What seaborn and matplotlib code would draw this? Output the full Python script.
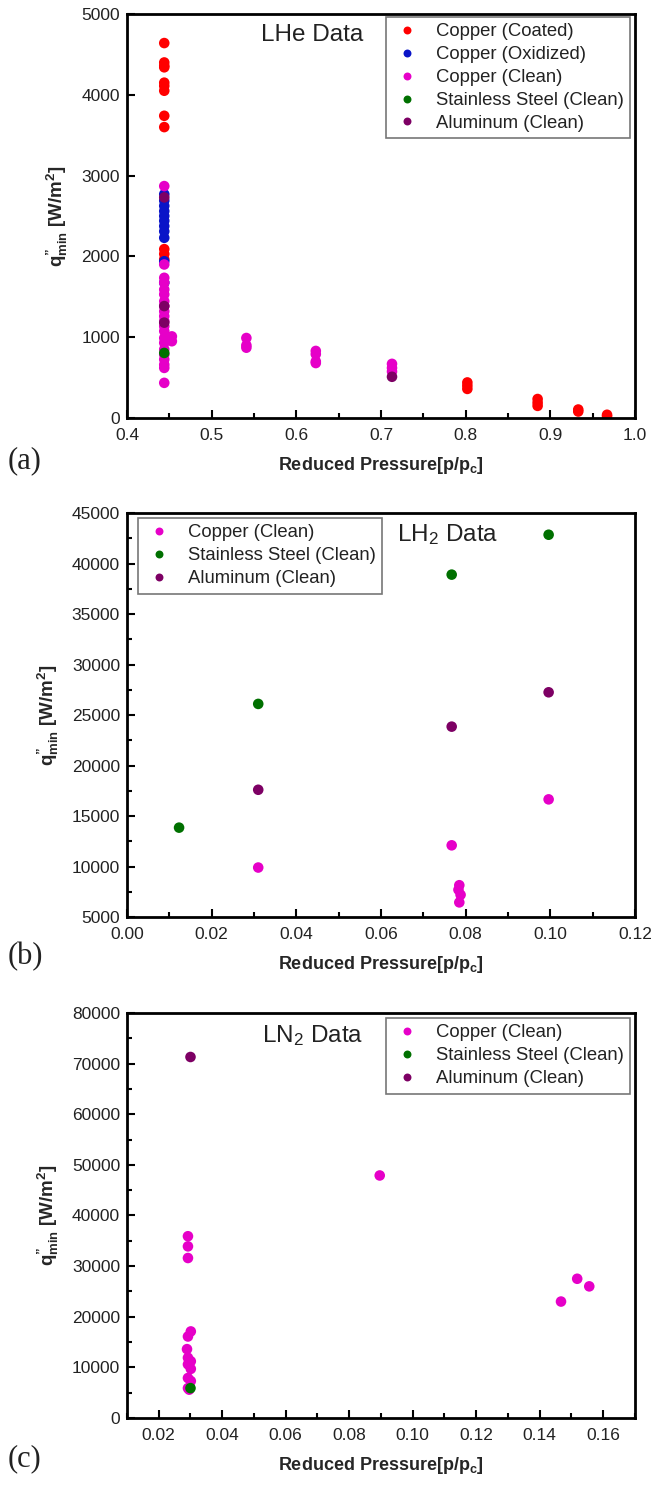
import matplotlib
matplotlib.use("Agg")
import matplotlib.pyplot as plt
from matplotlib.ticker import MultipleLocator, FormatStrFormatter
import pandas as pd
import seaborn as sns

# ---------------- data ----------------
LABELS = ["Copper (Coated)", "Copper (Oxidized)", "Copper (Clean)",
          "Stainless Steel (Clean)", "Aluminum (Clean)"]
COLORS = ["#FF0000", "#0A14C8", "#E600C8", "#007000", "#7D0064"]

# (a) liquid helium
he_coated_x = [0.444, 0.444, 0.444, 0.444, 0.444, 0.444, 0.444, 0.444, 0.444,
               0.444, 0.444, 0.444, 0.802, 0.802, 0.802, 0.885, 0.885, 0.885,
               0.933, 0.933, 0.967, 0.967]
he_coated_y = [4640, 4400, 4360, 4340, 4150, 4110, 4050, 3740, 3600,
               2090, 2030, 1965, 440, 400, 360, 235, 190, 150,
               105, 80, 40, 20]
he_oxid_x = [0.444, 0.444, 0.444, 0.444, 0.444, 0.444, 0.444, 0.444, 0.444,
             0.444, 0.444]
he_oxid_y = [2770, 2690, 2625, 2560, 2500, 2440, 2375, 2310, 2230, 1940, 1675]
he_clean_x = [0.444, 0.444, 0.444, 0.444, 0.444, 0.444, 0.444, 0.444, 0.444,
              0.444, 0.444, 0.444, 0.444, 0.444, 0.444, 0.444, 0.444, 0.444,
              0.444, 0.444, 0.444, 0.453, 0.453, 0.541, 0.541, 0.541,
              0.623, 0.623, 0.623, 0.623, 0.713, 0.713, 0.713]
he_clean_y = [2870, 1900, 1735, 1675, 1590, 1530, 1445, 1385, 1320, 1260,
              1200, 1135, 1075, 990, 930, 850, 785, 725, 660, 620, 435,
              1010, 950, 990, 900, 870, 830, 790, 700, 680, 670, 620, 575]
he_ss_x = [0.444]
he_ss_y = [805]
he_al_x = [0.444, 0.444, 0.444, 0.713]
he_al_y = [2730, 1385, 1180, 510]

# (b) liquid hydrogen
h2_clean_x = [0.031, 0.0767, 0.0785, 0.0783, 0.0788, 0.0785, 0.0996]
h2_clean_y = [9900, 12100, 8150, 7700, 7200, 6450, 16650]
h2_ss_x = [0.0123, 0.031, 0.0767, 0.0996]
h2_ss_y = [13850, 26100, 38900, 42850]
h2_al_x = [0.031, 0.0767, 0.0996]
h2_al_y = [17600, 23850, 27250]

# (c) liquid nitrogen
n2_clean_x = [0.0292, 0.0292, 0.0292, 0.0301, 0.0292, 0.0289, 0.0292, 0.0301,
              0.0292, 0.0301, 0.0292, 0.0301, 0.0292, 0.0296,
              0.0896, 0.1467, 0.1518, 0.1556]
n2_clean_y = [35900, 33900, 31600, 17100, 16100, 13600, 11900, 11200,
              10600, 9700, 7900, 7300, 5900, 5600,
              47900, 23000, 27500, 26000]
n2_ss_x = [0.030]
n2_ss_y = [5900]
n2_al_x = [0.030]
n2_al_y = [71300]

# ---------------- style ----------------
sns.set_style("white")
plt.rcParams["font.family"] = ["Liberation Sans", "DejaVu Sans"]
plt.rcParams["mathtext.fontset"] = "custom"
plt.rcParams["mathtext.rm"] = "Liberation Sans"
plt.rcParams["mathtext.it"] = "Liberation Sans:italic"
plt.rcParams["mathtext.bf"] = "Liberation Sans:bold"

palette = dict(zip(LABELS, COLORS))


def make_frame(groups):
    rows = []
    for label, xs, ys in groups:
        for x, y in zip(xs, ys):
            rows.append({"p": x, "q": y, "surface": label})
    return pd.DataFrame(rows)


def style_axes(ax, xlim, ylim, xmaj, xmin, ymaj, ymin, xfmt):
    ax.set_xlim(*xlim)
    ax.set_ylim(*ylim)
    ax.xaxis.set_major_locator(MultipleLocator(xmaj))
    ax.xaxis.set_minor_locator(MultipleLocator(xmin))
    ax.yaxis.set_major_locator(MultipleLocator(ymaj))
    if ymin:
        ax.yaxis.set_minor_locator(MultipleLocator(ymin))
    ax.xaxis.set_major_formatter(FormatStrFormatter(xfmt))
    ax.tick_params(which="both", direction="in", top=False, right=False,
                   bottom=True, left=True, width=1.5, colors="black",
                   labelcolor="#222222")
    ax.tick_params(which="major", length=6, labelsize=12.5)
    ax.tick_params(axis="x", which="major", pad=7)
    ax.tick_params(axis="y", which="major", pad=5)
    ax.tick_params(which="minor", length=3.5)
    for sp in ax.spines.values():
        sp.set_linewidth(2.0)
        sp.set_color("black")
        sp.set_visible(True)
    ax.set_xlabel(r"Reduced Pressure[p/p$_{\mathbf{c}}$]", fontsize=13,
                  fontweight="bold", labelpad=9)
    ax.set_ylabel(r"$\mathbf{q^{”}_{min}}$ [W/m$^{\mathbf{2}}$]", fontsize=13.5,
                  fontweight="bold", labelpad=8)


def add_legend(ax, anchor, loc):
    handles, labels = ax.get_legend_handles_labels()
    leg = ax.legend(handles, labels, loc=loc, bbox_to_anchor=anchor,
                    frameon=True, fancybox=False, fontsize=13.3,
                    markerscale=0.75, handlelength=1.6, handletextpad=0.75,
                    borderpad=0.35, labelspacing=0.32, borderaxespad=0.0)
    leg.get_frame().set_edgecolor("#555555")
    leg.get_frame().set_linewidth(1.2)
    for t in leg.get_texts():
        t.set_color("#222222")


fig = plt.figure(figsize=(6.67, 14.87), dpi=100)
L, W = 0.1904, 0.7616
ax_a = fig.add_axes([L, 0.7189, W, 0.2717])
ax_b = fig.add_axes([L, 0.3833, W, 0.2717])
ax_c = fig.add_axes([L, 0.0464, W, 0.2724])

dot = dict(x="p", y="q", hue="surface", palette=palette, s=58,
           linewidth=0, alpha=1.0, legend=True)

# (a) LHe
df_a = make_frame([(LABELS[0], he_coated_x, he_coated_y),
                   (LABELS[1], he_oxid_x, he_oxid_y),
                   (LABELS[2], he_clean_x, he_clean_y),
                   (LABELS[3], he_ss_x, he_ss_y),
                   (LABELS[4], he_al_x, he_al_y)])
sns.scatterplot(data=df_a, hue_order=LABELS, ax=ax_a, **dot)
style_axes(ax_a, (0.4, 1.0), (0, 5000), 0.1, 0.05, 1000, None, "%.1f")
add_legend(ax_a, (0.99, 0.993), "upper right")
ax_a.text(0.465, 0.948, "LHe Data", transform=ax_a.transAxes, fontsize=17.5,
          ha="right", va="center", color="#222222")

# (b) LH2
df_b = make_frame([(LABELS[2], h2_clean_x, h2_clean_y),
                   (LABELS[3], h2_ss_x, h2_ss_y),
                   (LABELS[4], h2_al_x, h2_al_y)])
sns.scatterplot(data=df_b, hue_order=LABELS[2:], ax=ax_b, **dot)
style_axes(ax_b, (0.0, 0.12), (5000, 45000), 0.02, 0.01, 5000, 2500, "%.2f")
add_legend(ax_b, (0.022, 0.988), "upper left")
ax_b.text(0.532, 0.947, r"LH$_2$ Data", transform=ax_b.transAxes,
          fontsize=17.5, ha="left", va="center", color="#222222")

# (c) LN2
df_c = make_frame([(LABELS[2], n2_clean_x, n2_clean_y),
                   (LABELS[3], n2_ss_x, n2_ss_y),
                   (LABELS[4], n2_al_x, n2_al_y)])
sns.scatterplot(data=df_c, hue_order=LABELS[2:], ax=ax_c, **dot)
style_axes(ax_c, (0.01, 0.17), (0, 80000), 0.02, 0.01, 10000, 5000, "%.2f")
add_legend(ax_c, (0.99, 0.988), "upper right")
ax_c.text(0.465, 0.943, r"LN$_2$ Data", transform=ax_c.transAxes,
          fontsize=17.5, ha="right", va="center", color="#222222")

# panel letters
for y, s in [(0.690, "(a)"), (0.357, "(b)"), (0.019, "(c)")]:
    fig.text(0.012, y, s, fontsize=22, family="Liberation Serif",
             ha="left", va="center", color="#222222")

fig.savefig("out.png", dpi=100)
